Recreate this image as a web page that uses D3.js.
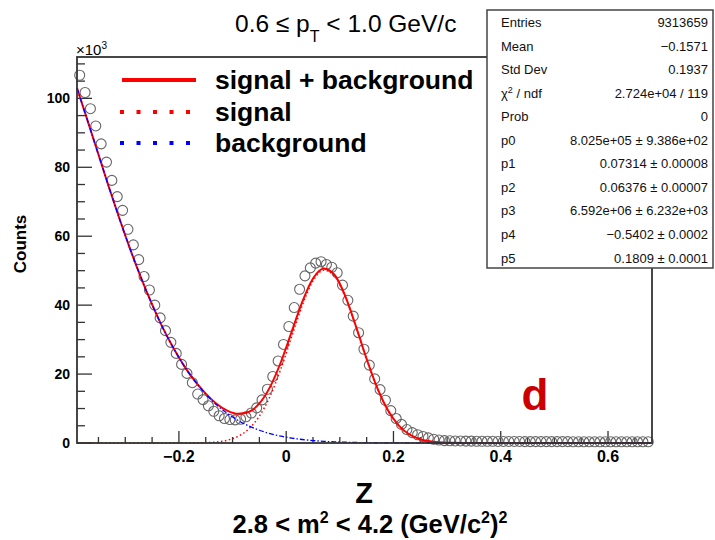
<!DOCTYPE html>
<html><head><meta charset="utf-8">
<script src="https://cdn.jsdelivr.net/npm/d3@7"></script>
<style>
body{margin:0;background:#fff;}
text{font-family:"Liberation Sans",Arial,Helvetica,sans-serif;}
</style></head>
<body><svg id="c" width="715" height="540"></svg>
<script>
// ---- data ----
const binStart = -0.385, binWidth = 0.01;
const counts = [106.7,101.7,97.0,92.0,86.8,81.5,76.2,71.5,67.5,62.0,
 57.5,53.2,48.3,44.4,40.0,36.3,32.6,29.2,26.0,22.8,
 20.2,17.5,14.2,12.6,10.8,9.2,7.9,7.1,6.8,6.7,
 6.9,7.6,8.7,10.2,12.5,15.6,19.3,23.8,28.6,33.8,
 39.3,44.6,48.5,50.8,52.2,52.6,51.8,51.0,49.4,45.8,
 41.4,36.8,32.0,27.2,22.6,18.6,15.5,12.4,9.4,7.1,
 5.4,3.9,3.0,2.4,1.9,1.5,1.1,0.85,0.7,0.65,
 0.6,0.6,0.55,0.55,0.5,0.5,0.5,0.5,0.45,0.45,
 0.45,0.45,0.45,0.4,0.4,0.4,0.4,0.4,0.4,0.4,
 0.4,0.4,0.35,0.35,0.35,0.35,0.35,0.35,0.35,0.35,
 0.35,0.35,0.35,0.35,0.35,0.35,0.35];
const fitX = [-0.39,-0.37,-0.35,-0.33,-0.31,-0.29,-0.27,-0.25,-0.23,-0.21,
 -0.19,-0.17,-0.15,-0.13,-0.11,-0.09,-0.07,-0.05,-0.03,-0.01,
 0.01,0.03,0.05,0.07,0.09,0.11,0.13,0.15,0.17,0.19,
 0.21,0.23,0.25,0.27,0.29,0.31,0.33,0.37,0.45,0.55,0.68];
const fitSignal = [0,0,0,0,0,0,0,0,0,0,
 0.01,0.035,0.11,0.31,0.81,1.90,4.04,7.78,13.57,21.45,
 30.75,39.94,47.01,50.15,48.48,42.48,33.74,24.28,15.84,9.36,
 5.01,2.44,1.07,0.43,0.15,0.05,0.015,0,0,0,0];
const fitBackground = [103.0,93.4,83.7,74.0,64.7,55.9,47.7,40.2,33.4,27.5,
 22.3,17.9,14.2,11.1,8.6,6.57,4.96,3.70,2.72,1.98,
 1.43,1.01,0.71,0.49,0.34,0.23,0.15,0.10,0.07,0.04,
 0.03,0.02,0.01,0,0,0,0,0,0,0,0];
const xTicks = [-0.2,0,0.2,0.4,0.6];
const xTickLabels = ["\u22120.2","0","0.2","0.4","0.6"];
const yTicks = [0,20,40,60,80,100];
const legendLabels = ["signal + background","signal","background"];
const statNames = ["Entries","Mean","Std Dev","\u03C7\u00B2 / ndf","Prob","p0","p1","p2","p3","p4","p5"];
const statValues = ["9313659","\u22120.1571","0.1937","2.724e+04 / 119","0",
 "8.025e+05 \u00B1 9.386e+02","0.07314 \u00B1 0.00008","0.06376 \u00B1 0.00007",
 "6.592e+06 \u00B1 6.232e+03","\u22120.5402 \u00B1 0.0002","0.1809 \u00B1 0.0001"];

// ---- layout ----
const svg = d3.select("#c");
const L=77, R=652, T=57, B=443;
const x = d3.scaleLinear().domain([-0.39,0.682]).range([L,R]);
const y = d3.scaleLinear().domain([0,112]).range([B,T]);

const xMinor = d3.range(-7,14).map(k=>k*0.05).filter(v=>v>-0.39 && v<0.682 && Math.abs(Math.round(v*10/2)*0.2 - v)>1e-6);
const yMinor = d3.range(0,23).map(k=>k*5).filter(v=>v%20!==0 && v<112);

const g = svg.append("g");
g.selectAll(".xm").data(xMinor).enter().append("line")
 .attr("x1",d=>x(d)).attr("x2",d=>x(d)).attr("y1",B).attr("y2",B-6)
 .attr("stroke","#333").attr("stroke-width",1.3);
g.selectAll(".xM").data(xTicks).enter().append("line")
 .attr("x1",d=>x(d)).attr("x2",d=>x(d)).attr("y1",B).attr("y2",B-12)
 .attr("stroke","#333").attr("stroke-width",1.3);
g.selectAll(".ym").data(yMinor).enter().append("line")
 .attr("x1",L).attr("x2",L+8).attr("y1",d=>y(d)).attr("y2",d=>y(d))
 .attr("stroke","#333").attr("stroke-width",1.3);
g.selectAll(".yM").data(yTicks).enter().append("line")
 .attr("x1",L).attr("x2",L+15).attr("y1",d=>y(d)).attr("y2",d=>y(d))
 .attr("stroke","#333").attr("stroke-width",1.3);

g.selectAll(".xl").data(xTicks).enter().append("text")
 .attr("x",d=>x(d)).attr("y",462).attr("text-anchor","middle")
 .attr("font-size",16).attr("font-weight","bold").text((d,i)=>xTickLabels[i]);
g.selectAll(".yl").data(yTicks).enter().append("text")
 .attr("x",70).attr("y",d=>y(d)+5).attr("text-anchor","end")
 .attr("font-size",14).attr("font-weight","bold").text(d=>d);

// data points
const pts = counts.map((v,i)=>({x:binStart+i*binWidth, v}));
g.selectAll(".pt").data(pts).enter().append("circle")
 .attr("cx",d=>x(d.x)).attr("cy",d=>y(d.v)).attr("r",5)
 .attr("fill","none").attr("stroke","#666").attr("stroke-width",1.1);

// fit lines
const line = d3.line().x(d=>x(d[0])).y(d=>y(d[1])).curve(d3.curveMonotoneX);
const totalData = fitX.map((xv,i)=>[xv, fitSignal[i]+fitBackground[i]]);
const sigData = fitX.map((xv,i)=>[xv, fitSignal[i]]);
const bgData = fitX.map((xv,i)=>[xv, fitBackground[i]]);
g.append("path").attr("d",line(totalData)).attr("fill","none").attr("stroke","#ff0000").attr("stroke-width",2);
g.append("path").attr("d",line(sigData)).attr("fill","none").attr("stroke","#ff0000").attr("stroke-width",1.5).attr("stroke-dasharray","1.5,2.5");
g.append("path").attr("d",line(bgData)).attr("fill","none").attr("stroke","#0000ff").attr("stroke-width",1.3).attr("stroke-dasharray","5,2,1.5,2");

// frame
g.append("rect").attr("x",L).attr("y",T).attr("width",R-L).attr("height",B-T)
 .attr("fill","none").attr("stroke","#333").attr("stroke-width",1.8);

// x10^3
const e3 = svg.append("text").attr("x",76).attr("y",55).attr("font-size",15);
e3.append("tspan").text("\u00D710");
e3.append("tspan").attr("font-size",10).attr("dy",-6).text("3");

// legend
const legY = [80,112,143];
svg.append("line").attr("x1",122).attr("x2",196).attr("y1",legY[0]).attr("y2",legY[0]).attr("stroke","#ff0000").attr("stroke-width",4);
svg.append("line").attr("x1",120).attr("x2",196).attr("y1",legY[1]).attr("y2",legY[1]).attr("stroke","#ff0000").attr("stroke-width",4).attr("stroke-dasharray","4,12.5");
svg.append("line").attr("x1",120).attr("x2",196).attr("y1",legY[2]).attr("y2",legY[2]).attr("stroke","#0000ff").attr("stroke-width",4).attr("stroke-dasharray","4,12.5");
svg.selectAll(".lg").data(legendLabels).enter().append("text")
 .attr("x",215).attr("y",(d,i)=>legY[i]+9).attr("font-size",26.5).attr("font-weight","bold").text(d=>d);

// title
const tt = svg.append("text").attr("x",235).attr("y",32).attr("font-size",24.5);
tt.append("tspan").text("0.6 \u2264 p");
tt.append("tspan").attr("font-size",16).attr("dy",10).text("T");
tt.append("tspan").attr("dy",-10).text(" < 1.0 GeV/c");

// stats box
const bx=487, by=10, bw=226, bh=258;
svg.append("rect").attr("x",bx).attr("y",by).attr("width",bw).attr("height",bh)
 .attr("fill","#fff").attr("stroke","#444").attr("stroke-width",1.5);
statNames.forEach((n,i)=>{
  const yy = 22.5 + 23.55*i + 4.5;
  const t = svg.append("text").attr("x",501).attr("y",yy).attr("font-size",13).attr("fill","#111");
  if(i===3){ t.append("tspan").text("\u03C7"); t.append("tspan").attr("font-size",9).attr("dy",-5).text("2"); t.append("tspan").attr("dy",5).text(" / ndf"); }
  else t.text(n);
  svg.append("text").attr("x",708).attr("y",yy).attr("text-anchor","end").attr("font-size",13).attr("fill","#111").text(statValues[i]);
});

svg.append("text").attr("x",535).attr("y",410).attr("text-anchor","middle").attr("font-size",44).attr("font-weight","bold").attr("fill","#cc0000").text("d");

// axis titles
svg.append("text").attr("transform","translate(26,244) rotate(-90)").attr("text-anchor","middle").attr("font-size",17).attr("font-weight","bold").text("Counts");
svg.append("text").attr("x",364).attr("y",503).attr("text-anchor","middle").attr("font-size",29).attr("font-weight","bold").text("Z");
const st = svg.append("text").attr("x",370).attr("y",533).attr("text-anchor","middle").attr("font-size",25.5).attr("font-weight","bold");
st.append("tspan").text("2.8 < m");
st.append("tspan").attr("font-size",16).attr("dy",-10).text("2");
st.append("tspan").attr("dy",10).text(" < 4.2 (GeV/c");
st.append("tspan").attr("font-size",16).attr("dy",-10).text("2");
st.append("tspan").attr("dy",10).text(")");
st.append("tspan").attr("font-size",16).attr("dy",-10).text("2");
</script></body></html>
